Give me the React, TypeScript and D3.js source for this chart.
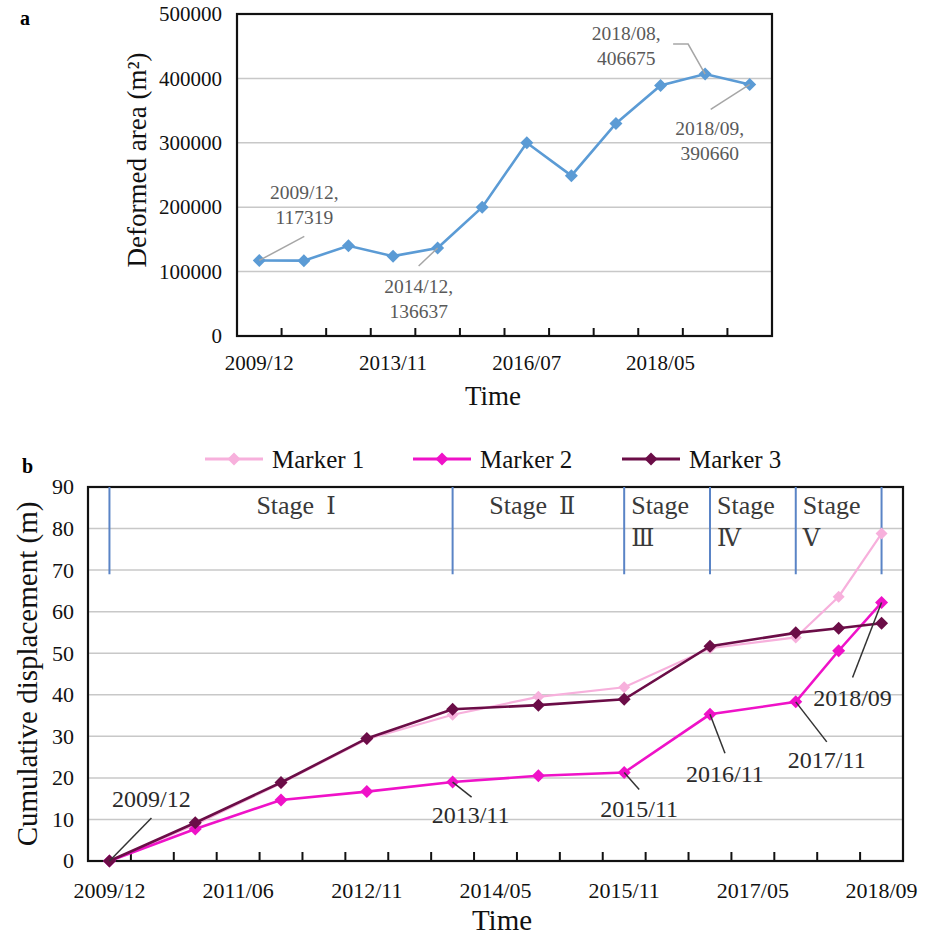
import React from "react";
import * as d3 from "d3";

// ---------- Panel a: deformed area ----------
const areaCategories = [
  "2009/12", "", "", "2013/11", "2014/12", "", "2016/07", "", "", "2018/05", "2018/08", "2018/09",
];
const areaTickLabels = ["2009/12", "", "", "2013/11", "", "", "2016/07", "", "", "2018/05", "", ""];
const areaValues = [117319, 117000, 140000, 124000, 136637, 200000, 300000, 249000, 330000, 389000, 406675, 390660];
const areaYTicks = [0, 100000, 200000, 300000, 400000, 500000];
const areaCallouts = [0, 4, 10, 11];

// ---------- Panel b: cumulative displacement ----------
const dispTickLabels = [
  "2009/12", "", "", "2011/06", "", "", "2012/11", "", "", "2014/05", "", "", "2015/11", "", "", "2017/05", "", "", "2018/09",
];
const dispSlots = [0, 2, 4, 6, 8, 10, 12, 14, 16, 17, 18];
const dispDates = ["2009/12", "", "", "", "2013/11", "", "2015/11", "2016/11", "2017/11", "", "2018/09"];
const marker1 = [0, 8.8, 18.7, 29.3, 35.2, 39.5, 41.8, 51.2, 53.8, 63.6, 78.8];
const marker2 = [0, 7.7, 14.7, 16.7, 19.0, 20.5, 21.3, 35.3, 38.3, 50.6, 62.2];
const marker3 = [0, 9.2, 18.9, 29.5, 36.5, 37.5, 38.9, 51.7, 54.9, 56.0, 57.2];
const seriesNames = ["Marker 1", "Marker 2", "Marker 3"];
const dispYTicks = [0, 10, 20, 30, 40, 50, 60, 70, 80, 90];
const stageBounds = [0, 8, 12, 14, 16, 18];
const stageNames = ["Ⅰ", "Ⅱ", "Ⅲ", "Ⅳ", "Ⅴ"];
const dispCallouts = [0, 4, 6, 7, 8, 10];

const SERIF = "'Liberation Serif', 'Times New Roman', Times, serif";
const NUMERAL_FONT = "'DejaVu Serif', 'Liberation Serif', serif";

const diamond = (r: number) => `M0,${-r}L${r},0L0,${r}L${-r},0Z`;

function PanelA() {
  const left = 237, right = 772, top = 14, bottom = 336;
  const x = d3.scaleBand<number>().domain(d3.range(areaCategories.length)).range([left, right]);
  const y = d3.scaleLinear().domain([0, 500000]).range([bottom, top]);
  const cx = (i: number) => (x(i) as number) + x.bandwidth() / 2;
  const line = d3
    .line<number>()
    .x((_, i) => cx(i))
    .y((d) => y(d));

  // callout placement relative to its point: text centre/baseline and leader path
  const callout: Record<number, { tx: number; ty: number; leader: [number, number][] }> = {
    0: { tx: 45, ty: -61, leader: [[45, -24]] },
    4: { tx: -19, ty: 45, leader: [[-19, 18]] },
    10: { tx: -79, ty: -34, leader: [[-17, -30], [-32, -30]] },
    11: { tx: -40, ty: 51, leader: [[-39, 25]] },
  };

  return (
    <g fontFamily={SERIF}>
      <text x={20} y={25} fontSize={20} fontWeight="bold">a</text>
      {areaYTicks.slice(1, -1).map((t) => (
        <line key={t} x1={left} x2={right} y1={y(t)} y2={y(t)} stroke="#c8c8c8" strokeWidth={1.5} />
      ))}
      {areaYTicks.map((t) => (
        <text key={t} x={222} y={y(t)} dy="0.34em" textAnchor="end" fontSize={21} fill="#111">
          {t}
        </text>
      ))}
      {d3.range(1, areaCategories.length).map((i) => (
        <line key={i} x1={x(i)} x2={x(i)} y1={bottom} y2={bottom - 8} stroke="#111" strokeWidth={2} />
      ))}
      {areaTickLabels.map((l, i) =>
        l ? (
          <text key={i} x={cx(i)} y={370} textAnchor="middle" fontSize={21} fill="#111">
            {l}
          </text>
        ) : null
      )}
      <rect x={left} y={top} width={right - left} height={bottom - top} fill="none" stroke="#111" strokeWidth={2.2} />
      <path d={line(areaValues) as string} fill="none" stroke="#5b9bd5" strokeWidth={2.6} />
      {areaValues.map((v, i) => (
        <path key={i} d={diamond(6.5)} transform={`translate(${cx(i)},${y(v)})`} fill="#5b9bd5" />
      ))}
      {areaCallouts.map((i) => {
        const px = cx(i), py = y(areaValues[i]);
        const c = callout[i];
        const pts = [[px, py], ...c.leader.map(([dx, dy]) => [px + dx, py + dy])];
        return (
          <g key={i}>
            <polyline points={pts.map((p) => p.join(",")).join(" ")} fill="none" stroke="#a6a6a6" strokeWidth={1.5} />
            <text x={px + c.tx} y={py + c.ty} textAnchor="middle" fontSize={19.5} fill="#595959">
              <tspan x={px + c.tx}>{areaCategories[i]},</tspan>
              <tspan x={px + c.tx} dy={25}>{areaValues[i]}</tspan>
            </text>
          </g>
        );
      })}
      <text transform="translate(146,160) rotate(-90)" textAnchor="middle" fontSize={27} fill="#111">
        Deformed area (m²)
      </text>
      <text x={493} y={405} textAnchor="middle" fontSize={27} fill="#111">Time</text>
    </g>
  );
}

function PanelB() {
  const left = 88, right = 903, top = 487, bottom = 861;
  const x = d3.scaleBand<number>().domain(d3.range(dispTickLabels.length)).range([left, right]);
  const y = d3.scaleLinear().domain([0, 90]).range([bottom, top]);
  const cx = (i: number) => (x(i) as number) + x.bandwidth() / 2;
  const line = d3
    .line<number>()
    .x((_, k) => cx(dispSlots[k]))
    .y((d) => y(d));

  const series = [
    { name: seriesNames[0], values: marker1, color: "#f7b0dc", width: 2.2, r: 6 },
    { name: seriesNames[1], values: marker2, color: "#ef12c8", width: 2.6, r: 6.5 },
    { name: seriesNames[2], values: marker3, color: "#6b0d47", width: 2.6, r: 6.5 },
  ];
  const legendX = [205, 413, 622];

  const callout: Record<number, { tx: number; ty: number; lx: number; ly: number }> = {
    0: { tx: 42, ty: -54, lx: 42, ly: -43 },
    4: { tx: 18, ty: 41, lx: 19, ly: 15 },
    6: { tx: 15, ty: 45, lx: 15, ly: 17 },
    7: { tx: 15, ty: 68, lx: 15, ly: 39 },
    8: { tx: 31, ty: 66, lx: 31, ly: 40 },
    10: { tx: -29, ty: 103, lx: -29, ly: 75 },
  };
  const stageNudge = [15, -6];

  return (
    <g fontFamily={SERIF}>
      <text x={22} y={473} fontSize={20} fontWeight="bold">b</text>
      {series.map((s, k) => (
        <g key={s.name}>
          <line x1={legendX[k]} x2={legendX[k] + 58} y1={459} y2={459} stroke={s.color} strokeWidth={3} />
          <path d={diamond(6.5)} transform={`translate(${legendX[k] + 29},459)`} fill={s.color} />
          <text x={legendX[k] + 67} y={468} fontSize={25} fill="#111">{s.name}</text>
        </g>
      ))}
      {dispYTicks.slice(1, -1).map((t) => (
        <line key={t} x1={left} x2={right} y1={y(t)} y2={y(t)} stroke="#c8c8c8" strokeWidth={1.5} />
      ))}
      {dispYTicks.map((t) => (
        <text key={t} x={74} y={y(t)} dy="0.34em" textAnchor="end" fontSize={22} fill="#111">
          {t}
        </text>
      ))}
      {d3.range(1, dispTickLabels.length).map((i) => (
        <line key={i} x1={x(i)} x2={x(i)} y1={bottom} y2={bottom - 9} stroke="#111" strokeWidth={2} />
      ))}
      {dispTickLabels.map((l, i) =>
        l ? (
          <text key={i} x={cx(i)} y={898} textAnchor="middle" fontSize={22} fill="#111">
            {l}
          </text>
        ) : null
      )}
      <rect x={left} y={top} width={right - left} height={bottom - top} fill="none" stroke="#111" strokeWidth={2.2} />
      {stageBounds.map((b) => (
        <line key={b} x1={cx(b)} x2={cx(b)} y1={top} y2={y(69)} stroke="#5a84c6" strokeWidth={2} />
      ))}
      {stageNames.map((n, k) => {
        const a = cx(stageBounds[k]), b = cx(stageBounds[k + 1]);
        if (b - a > 120) {
          const mid = (a + b) / 2 + stageNudge[k];
          return (
            <text key={n} x={mid} y={514} textAnchor="middle" fontSize={26} fill="#3a3a3a">
              Stage
              <tspan dx={12} fontFamily={NUMERAL_FONT} fontSize={24}>{n}</tspan>
            </text>
          );
        }
        return (
          <text key={n} x={a + 7} y={514} fontSize={26} fill="#3a3a3a">
            <tspan x={a + 7}>Stage</tspan>
            <tspan x={a + 7} dy={32} fontFamily={NUMERAL_FONT} fontSize={24}>{n}</tspan>
          </text>
        );
      })}
      {series.map((s) => (
        <g key={s.name}>
          <path d={line(s.values) as string} fill="none" stroke={s.color} strokeWidth={s.width} />
          {s.values.map((v, k) => (
            <path key={k} d={diamond(s.r)} transform={`translate(${cx(dispSlots[k])},${y(v)})`} fill={s.color} />
          ))}
        </g>
      ))}
      {dispCallouts.map((k) => {
        const px = cx(dispSlots[k]), py = y(marker2[k]);
        const c = callout[k];
        return (
          <g key={k}>
            <line x1={px} y1={py} x2={px + c.lx} y2={py + c.ly} stroke="#333" strokeWidth={1.5} />
            <text x={px + c.tx} y={py + c.ty} textAnchor="middle" fontSize={24} fill="#2a2a2a">
              {dispDates[k]}
            </text>
          </g>
        );
      })}
      <text transform={`translate(37,${(top + bottom) / 2}) rotate(-90)`} textAnchor="middle" fontSize={29} fill="#111">
        Cumulative displacement (m)
      </text>
      <text x={502} y={930} textAnchor="middle" fontSize={29} fill="#111">Time</text>
    </g>
  );
}

export default function App() {
  return (
    <svg
      width={927}
      height={935}
      viewBox="0 0 927 935"
      style={{ position: "absolute", left: 0, top: 0, background: "#fff" }}
    >
      <rect width={927} height={935} fill="#fff" />
      <PanelA />
      <PanelB />
    </svg>
  );
}
